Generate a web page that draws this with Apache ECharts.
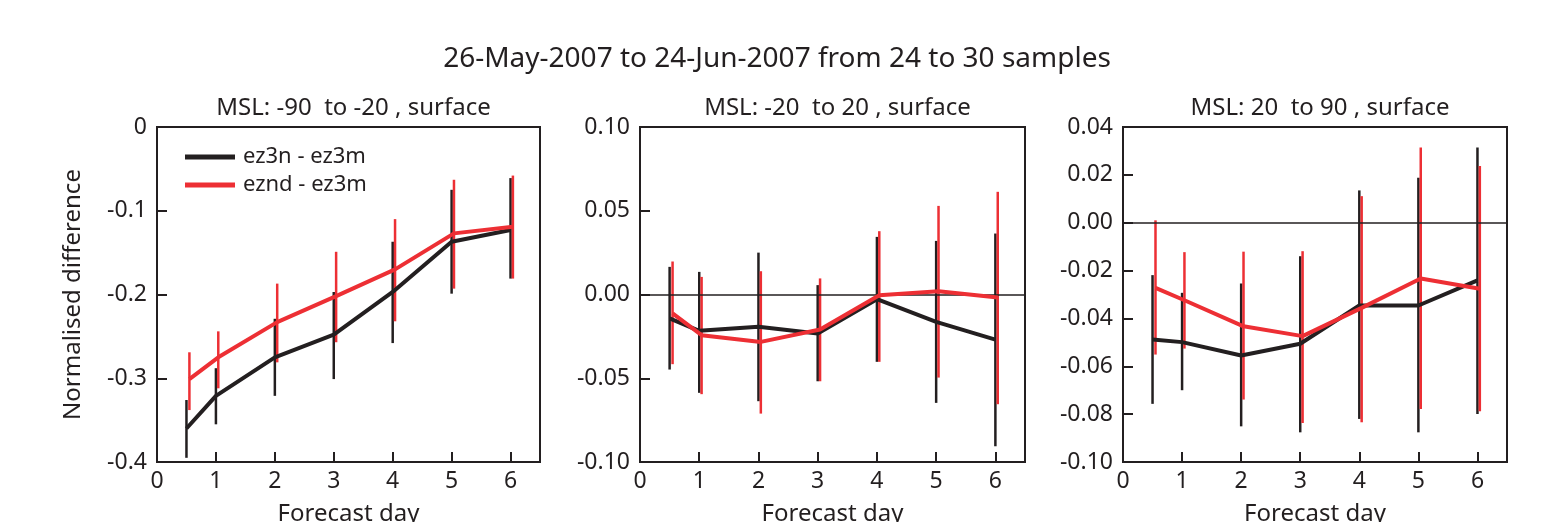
<!DOCTYPE html>
<html>
<head>
<meta charset="utf-8">
<script src="https://cdn.jsdelivr.net/npm/echarts@6/dist/echarts.min.js"></script>
<style>
  html, body { margin: 0; padding: 0; background: #fff; }
  #chart { width: 1554px; height: 522px; }
</style>
</head>
<body>
<div id="chart"></div>
<script>
  // forecast days (red series drawn slightly to the right)
  const daysBlack = [0.5, 1, 2, 3, 4, 5, 6]
  const daysRed = [0.55, 1.04, 2.04, 3.04, 4.04, 5.04, 6.04]

  const panelTitles = ['MSL: -90  to -20 , surface', 'MSL: -20  to 20 , surface', 'MSL: 20  to 90 , surface']
  const seriesNames = ['ez3n - ez3m', 'eznd - ez3m']

  // panel 1: -90 to -20
  const p1Black = [-0.360, -0.321, -0.275, -0.248, -0.197, -0.137, -0.123]
  const p1BlackLo = [-0.395, -0.355, -0.321, -0.301, -0.258, -0.199, -0.181]
  const p1BlackHi = [-0.326, -0.288, -0.229, -0.197, -0.137, -0.075, -0.061]
  const p1Red = [-0.301, -0.275, -0.233, -0.202, -0.170, -0.127, -0.119]
  const p1RedLo = [-0.338, -0.312, -0.281, -0.257, -0.232, -0.193, -0.181]
  const p1RedHi = [-0.269, -0.244, -0.187, -0.149, -0.110, -0.063, -0.058]

  // panel 2: -20 to 20
  const p2Black = [-0.0143, -0.0217, -0.0193, -0.0233, -0.0028, -0.0163, -0.0269]
  const p2BlackLo = [-0.0448, -0.0587, -0.0637, -0.0518, -0.0402, -0.0647, -0.0906]
  const p2BlackHi = [0.0165, 0.0135, 0.0250, 0.0056, 0.0344, 0.0320, 0.0364]
  const p2Red = [-0.0113, -0.0243, -0.0283, -0.0209, -0.0004, 0.0020, -0.0018]
  const p2RedLo = [-0.0416, -0.0595, -0.0711, -0.0518, -0.0402, -0.0496, -0.0655]
  const p2RedHi = [0.0197, 0.0105, 0.0139, 0.0096, 0.0378, 0.0529, 0.0613]

  // panel 3: 20 to 90
  const p3Black = [-0.0488, -0.0499, -0.0555, -0.0506, -0.0346, -0.0346, -0.0241]
  const p3BlackLo = [-0.0757, -0.0700, -0.0851, -0.0876, -0.0820, -0.0876, -0.0799]
  const p3BlackHi = [-0.0219, -0.0293, -0.0254, -0.0140, 0.0135, 0.0188, 0.0314]
  const p3Red = [-0.0272, -0.0324, -0.0433, -0.0474, -0.0356, -0.0233, -0.0276]
  const p3RedLo = [-0.0551, -0.0526, -0.0739, -0.0837, -0.0834, -0.0778, -0.0788]
  const p3RedHi = [0.0010, -0.0123, -0.0121, -0.0119, 0.0111, 0.0314, 0.0237]

  const yMin = [-0.4, -0.1, -0.1]
  const yMax = [0, 0.1, 0.04]
  const yStep = [0.1, 0.05, 0.02]
  const yDigits = [1, 2, 2]

  const BLACK = '#231f20'
  const RED = '#ed2f34'
  const FONT = 'Noto Sans'

  const panels = [
    { black: p1Black, blackLo: p1BlackLo, blackHi: p1BlackHi, red: p1Red, redLo: p1RedLo, redHi: p1RedHi },
    { black: p2Black, blackLo: p2BlackLo, blackHi: p2BlackHi, red: p2Red, redLo: p2RedLo, redHi: p2RedHi },
    { black: p3Black, blackLo: p3BlackLo, blackHi: p3BlackHi, red: p3Red, redLo: p3RedLo, redHi: p3RedHi }
  ]
  const gridLeft = [157, 640, 1123]
  const gridWidth = [383, 385, 384]

  function errorBars(idx, xs, lo, hi, color, width) {
    return {
      type: 'custom',
      xAxisIndex: idx,
      yAxisIndex: idx,
      z: 3,
      data: xs.map((x, i) => [x, lo[i], hi[i]]),
      renderItem: function(params, api) {
        const a = api.coord([api.value(0), api.value(1)])
        const b = api.coord([api.value(0), api.value(2)])
        return {
          type: 'line',
          shape: { x1: a[0], y1: a[1], x2: b[0], y2: b[1] },
          style: { stroke: color, lineWidth: width }
        }
      }
    }
  }

  const grid = [], xAxis = [], yAxis = [], series = []
  const title = [{
    text: '26-May-2007 to 24-Jun-2007 from 24 to 30 samples',
    left: 'center', top: 40,
    textStyle: { fontFamily: FONT, fontSize: 28, fontWeight: 'normal', color: BLACK }
  }]

  panels.forEach((p, i) => {
    grid.push({
      left: gridLeft[i], top: 127, width: gridWidth[i], height: 335,
      outerBoundsMode: 'none', containLabel: false,
      show: true, borderColor: BLACK, borderWidth: 2, backgroundColor: 'transparent'
    })
    title.push({
      text: panelTitles[i],
      left: gridLeft[i] + gridWidth[i] / 2, top: 91, textAlign: 'center',
      textStyle: { fontFamily: FONT, fontSize: 24, fontWeight: 'normal', color: BLACK }
    })
    xAxis.push({
      type: 'value', gridIndex: i, min: 0, max: 6.5, interval: 1,
      name: 'Forecast day', nameLocation: 'middle', nameGap: 40,
      nameTextStyle: { fontFamily: FONT, fontSize: 24, color: BLACK },
      axisLine: { show: false, onZero: false },
      axisTick: { show: true, inside: true, length: 10, lineStyle: { color: BLACK, width: 2 } },
      axisLabel: { showMaxLabel: false, fontFamily: FONT, fontSize: 23, color: BLACK, margin: 8 },
      splitLine: { show: false }
    })
    yAxis.push({
      type: 'value', gridIndex: i, min: yMin[i], max: yMax[i], interval: yStep[i],
      name: i === 0 ? 'Normalised difference' : '',
      nameLocation: 'middle', nameGap: 72,
      nameTextStyle: { fontFamily: FONT, fontSize: 24, color: BLACK },
      axisLine: { show: false, onZero: false },
      axisTick: { show: true, inside: true, length: 10, lineStyle: { color: BLACK, width: 2 } },
      axisLabel: {
        fontFamily: FONT, fontSize: 23, color: BLACK, margin: 10,
        formatter: v => (i === 0 && v === 0) ? '0' : v.toFixed(yDigits[i])
      },
      splitLine: { show: false }
    })

    series.push(errorBars(i, daysBlack, p.blackLo, p.blackHi, BLACK, 2.5))
    series.push(errorBars(i, daysRed, p.redLo, p.redHi, RED, 2.5))
    series.push({
      name: seriesNames[0], type: 'line', xAxisIndex: i, yAxisIndex: i, z: 4,
      data: daysBlack.map((x, k) => [x, p.black[k]]),
      symbol: 'none', lineStyle: { color: BLACK, width: 4 }, itemStyle: { color: BLACK },
      markLine: i === 0 ? undefined : {
        silent: true, symbol: 'none', label: { show: false },
        lineStyle: { color: BLACK, width: 1.5, type: 'solid' },
        data: [{ yAxis: 0 }]
      }
    })
    series.push({
      name: seriesNames[1], type: 'line', xAxisIndex: i, yAxisIndex: i, z: 5,
      data: daysRed.map((x, k) => [x, p.red[k]]),
      symbol: 'none', lineStyle: { color: RED, width: 4 }, itemStyle: { color: RED }
    })
  })

  const chart = echarts.init(document.getElementById('chart'))
  chart.setOption({
    backgroundColor: '#fff',
    animation: false,
    title: title,
    legend: {
      data: seriesNames,
      orient: 'vertical', left: 180, top: 141,
      icon: 'rect', itemWidth: 50, itemHeight: 5, itemGap: 6,
      textStyle: { fontFamily: FONT, fontSize: 22, color: BLACK, padding: [0, 0, 0, 3] }
    },
    grid: grid,
    xAxis: xAxis,
    yAxis: yAxis,
    series: series
  })
</script>
</body>
</html>
